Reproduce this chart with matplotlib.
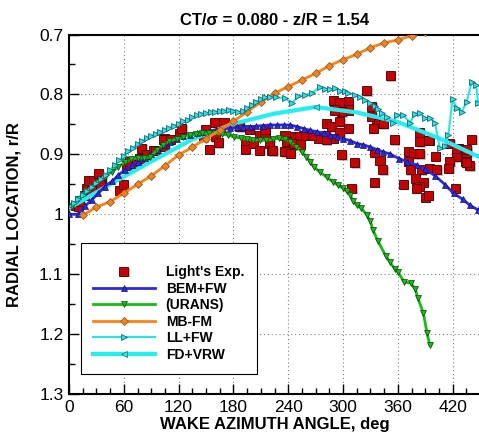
import matplotlib
matplotlib.use("Agg")
import matplotlib.pyplot as plt
import matplotlib.patheffects as pe
from matplotlib.ticker import MultipleLocator, FormatStrFormatter

plt.rcParams['font.family'] = ['Liberation Sans', 'DejaVu Sans']

# Light's experiment (azimuth deg, r/R)
exp_psi = [6.6, 10.2, 12, 17.5, 19.4, 21, 24.9, 26.6, 32, 35.8, 34, 55.8, 59.5, 63.2, 66.8,
           74.1, 77.7, 79.6, 85.1, 92.3, 94.2, 105, 105, 103.3, 110.6, 121.5, 123.4, 147, 149,
           159, 169.7, 160, 163.5, 153.6, 187, 198, 193, 193, 201.5, 209, 214.6, 214.6, 209,
           220, 222, 326, 289.4, 296.7, 305.8, 305.8, 298.6, 291, 282, 287.6, 296.7, 305.8,
           296.7, 289.4, 280, 273, 282, 265.8, 256.5, 249, 242, 236.5, 238.5, 245.6, 253,
           236.5, 242, 223, 298.6, 313, 331.5, 337, 340.5, 309.6, 351.5, 331.5, 338.7, 344,
           333, 356, 384, 384, 394.5, 334, 371.5, 377, 384, 400.8, 417, 426, 435.5, 424.5, 441,
           417, 433.6, 439, 416, 343.5, 371.5, 373.4, 386, 395, 402.6, 379, 388, 383.6, 366,
           334, 422.7, 380, 390, 393.4, 434.7, 393.4, 424.5, 435.5]
exp_r = [0.985, 0.987, 0.979, 0.968, 0.957, 0.943, 0.960, 0.943, 0.932, 0.943, 0.951, 0.960,
         0.951, 0.918, 0.912, 0.915, 0.907, 0.890, 0.901, 0.893, 0.893, 0.873, 0.887, 0.875,
         0.875, 0.865, 0.857, 0.871, 0.858, 0.847, 0.847, 0.871, 0.881, 0.892, 0.854, 0.858,
         0.882, 0.892, 0.882, 0.869, 0.869, 0.859, 0.893, 0.882, 0.894, 0.794, 0.810, 0.814,
         0.812, 0.826, 0.829, 0.826, 0.848, 0.854, 0.846, 0.857, 0.864, 0.873, 0.868, 0.873,
         0.876, 0.868, 0.868, 0.871, 0.871, 0.868, 0.879, 0.882, 0.884, 0.896, 0.898, 0.894,
         0.901, 0.914, 0.820, 0.848, 0.911, 0.957, 0.769, 0.837, 0.848, 0.849, 0.857, 0.876,
         0.864, 0.879, 0.877, 0.897, 0.896, 0.899, 0.899, 0.903, 0.882, 0.890, 0.897, 0.904,
         0.875, 0.912, 0.912, 0.919, 0.923, 0.926, 0.912, 0.926, 0.926, 0.923, 0.926, 0.940,
         0.947, 0.953, 0.950, 0.947, 0.957, 0.957, 0.972, 0.968, 0.914, 0.877, 0.890, 0.892]

bem_psi = [0, 10, 17, 25, 32, 39, 47, 54, 61, 69, 76, 83, 90, 97, 104, 111, 118, 125, 132, 140,
           147, 154, 161, 169, 176, 184, 191, 198, 205, 212, 220, 228, 235, 242, 250, 257, 264,
           271, 279, 286, 293, 300, 308, 315, 322, 330, 337, 344, 351, 361, 370, 381, 390, 401,
           412, 421, 431, 439, 448, 452]
bem_r = [1.0, 1.0, 0.987, 0.976, 0.965, 0.954, 0.945, 0.935, 0.926, 0.918, 0.912, 0.906, 0.900,
         0.892, 0.885, 0.879, 0.874, 0.869, 0.867, 0.865, 0.863, 0.861, 0.859, 0.858, 0.856,
         0.855, 0.854, 0.854, 0.853, 0.852, 0.851, 0.851, 0.851, 0.851, 0.854, 0.857, 0.860,
         0.862, 0.865, 0.868, 0.871, 0.874, 0.877, 0.882, 0.884, 0.888, 0.892, 0.896, 0.899,
         0.907, 0.912, 0.918, 0.925, 0.936, 0.951, 0.965, 0.975, 0.985, 0.993, 0.996]

urans_psi = [3, 10, 17, 25, 32, 39, 47, 54, 61, 68, 75, 82, 89, 96, 103, 110, 118, 125, 132, 139,
             146, 153, 160, 167, 174, 181, 188, 195, 202, 209, 216, 223, 230, 236, 242, 249, 255,
             260, 264, 268, 275, 282, 289, 295, 300, 304, 308, 311, 315, 320, 326, 330, 333, 338,
             347, 351, 357, 360, 367, 374, 379, 382, 388, 392, 395]
urans_r = [0.987, 0.974, 0.963, 0.954, 0.946, 0.937, 0.929, 0.921, 0.913, 0.908, 0.906, 0.906,
           0.905, 0.893, 0.884, 0.878, 0.874, 0.871, 0.868, 0.866, 0.865, 0.865, 0.865, 0.866,
           0.868, 0.871, 0.873, 0.875, 0.876, 0.876, 0.876, 0.875, 0.873, 0.874, 0.879, 0.887,
           0.896, 0.904, 0.912, 0.921, 0.930, 0.938, 0.946, 0.952, 0.957, 0.962, 0.968, 0.978,
           0.985, 0.990, 1.001, 1.012, 1.027, 1.044, 1.070, 1.079, 1.092, 1.096, 1.113, 1.115,
           1.124, 1.140, 1.165, 1.198, 1.218]

mbfm_psi = [15, 30, 45, 60, 75, 90, 105, 120, 135, 150, 165, 180, 195, 210, 225, 240, 255, 270,
            285, 300, 315, 330, 345, 360, 375, 390]
mbfm_r = [1.002, 0.988, 0.979, 0.965, 0.950, 0.936, 0.919, 0.901, 0.888, 0.874, 0.860, 0.845,
          0.829, 0.813, 0.798, 0.787, 0.776, 0.765, 0.752, 0.742, 0.733, 0.722, 0.714, 0.709,
          0.702, 0.695]

llfw_psi = [0, 5, 10, 15, 20, 25, 30, 35, 40, 45, 50, 55, 60, 65, 70, 75, 80, 85, 90, 95, 100,
            105, 110, 115, 120, 125, 130, 135, 140, 145, 150, 155, 160, 165, 170, 175, 180, 185,
            190, 195, 200, 205, 210, 215, 220, 227, 236.5, 244, 251, 258.4, 265.8, 275, 280, 286,
            291, 296.7, 302, 305.8, 313, 318.6, 324, 329.6, 335, 338.7, 342.4, 347.9, 355, 358.8,
            365.4, 373.4, 379, 384, 390, 395, 400.8, 406, 411.7, 415.3, 420, 424.5, 430, 435.5,
            441, 445.7, 448]
llfw_r = [0.99, 0.982, 0.975, 0.968, 0.962, 0.955, 0.948, 0.941, 0.934, 0.926, 0.918, 0.910,
          0.902, 0.895, 0.889, 0.883, 0.877, 0.873, 0.869, 0.866, 0.862, 0.859, 0.856, 0.852,
          0.849, 0.845, 0.842, 0.838, 0.835, 0.832, 0.831, 0.830, 0.829, 0.828, 0.827, 0.826,
          0.827, 0.829, 0.828, 0.823, 0.818, 0.812, 0.808, 0.805, 0.804, 0.805, 0.806, 0.815,
          0.803, 0.801, 0.798, 0.787, 0.791, 0.791, 0.790, 0.795, 0.795, 0.798, 0.801, 0.805,
          0.810, 0.815, 0.820, 0.825, 0.831, 0.838, 0.848, 0.834, 0.834, 0.847, 0.832, 0.831,
          0.840, 0.840, 0.847, 0.890, 0.886, 0.868, 0.808, 0.823, 0.829, 0.812, 0.779, 0.784,
          0.815]

fdvrw_psi = [0, 45, 90, 135, 180, 225, 270, 315, 360, 405, 450]
fdvrw_r = [0.99, 0.95, 0.912, 0.875, 0.849, 0.832, 0.821, 0.830, 0.846, 0.873, 0.905]

fig = plt.figure(figsize=(4.79, 4.37), dpi=100)
ax = fig.add_axes([69 / 479, 43 / 437, 411 / 479, 359.5 / 437])

shadow = [pe.SimplePatchShadow(offset=(1.0, -1.0), shadow_rgbFace='#999999', alpha=0.6), pe.Normal()]
h_exp, = ax.plot(exp_psi, exp_r, ls='none', marker='s', ms=6.5, mfc='#cc0000', mec='#3a0000',
                 mew=0.6, zorder=2, path_effects=shadow, label="Light's Exp.")
h_bem, = ax.plot(bem_psi, bem_r, color='#2a2ae6', lw=2, marker='^', ms=4, mfc='#2a2ae6',
                 mec='#101060', mew=0.5, zorder=4, label='BEM+FW')
h_ur, = ax.plot(urans_psi, urans_r, color='#10c010', lw=2, marker='v', ms=4.5, mfc='#10c010',
                mec='#104010', mew=0.5, zorder=4, label='(URANS)')
h_mb, = ax.plot(mbfm_psi, mbfm_r, color='#ff8010', lw=2, marker='D', ms=4.5, mfc='#ff8010',
                mec='#806040', mew=0.6, zorder=4, label='MB-FM')
h_fd, = ax.plot(fdvrw_psi, fdvrw_r, color='#20f0f0', lw=3, marker='<', ms=5, mfc='#20f0f0',
                mec='#208080', mew=0.6, markevery=[6], zorder=3, label='FD+VRW')
h_ll, = ax.plot(llfw_psi, llfw_r, color='#20e8e8', lw=1.5, marker='>', ms=5, mfc='#20e8e8',
                mec='#206070', mew=0.6, zorder=5, label='LL+FW')

ax.set_xlim(0, 450)
ax.set_ylim(1.3, 0.7)
ax.xaxis.set_major_locator(MultipleLocator(60))
ax.xaxis.set_minor_locator(MultipleLocator(15))
ax.yaxis.set_major_locator(MultipleLocator(0.1))
ax.yaxis.set_minor_locator(MultipleLocator(0.05))
ax.yaxis.set_major_formatter(FormatStrFormatter('%g'))
ax.tick_params(which='both', direction='in', top=False, right=False, labelsize=12.5, width=1)
ax.tick_params(which='major', length=7, pad=4)
ax.tick_params(which='minor', length=4)
ax.grid(which='major', ls=(0, (1, 2.5)), color='#808080', lw=0.8)
ax.set_axisbelow(True)
for s in ax.spines.values():
    s.set_linewidth(1.5)
ax.spines['right'].set_visible(False)

ax.set_title('CT/σ = 0.080 - z/R = 1.54', fontsize=12, fontweight='bold', pad=7)
ax.set_xlabel('WAKE AZIMUTH ANGLE, deg', fontsize=12, fontweight='bold')
ax.set_ylabel('RADIAL LOCATION, r/R', fontsize=12, fontweight='bold')
ax.xaxis.set_label_coords(0.5, -0.065)
ax.yaxis.set_label_coords(-0.115, 0.5)

leg = ax.legend([h_exp, h_bem, h_ur, h_mb, h_ll, h_fd],
                ["Light's Exp.", 'BEM+FW', '(URANS)', 'MB-FM', 'LL+FW', 'FD+VRW'],
                loc='upper left', bbox_to_anchor=(0.029, 0.42), borderaxespad=0,
                prop={'weight': 'bold', 'size': 10}, numpoints=1, handlelength=4.4,
                handletextpad=0.8, labelspacing=0.18, borderpad=0.9, title=' ',
                title_fontsize=6, fancybox=False, framealpha=1, edgecolor='black')
leg.get_frame().set_linewidth(0.8)

fig.savefig('out.png', dpi=100)
